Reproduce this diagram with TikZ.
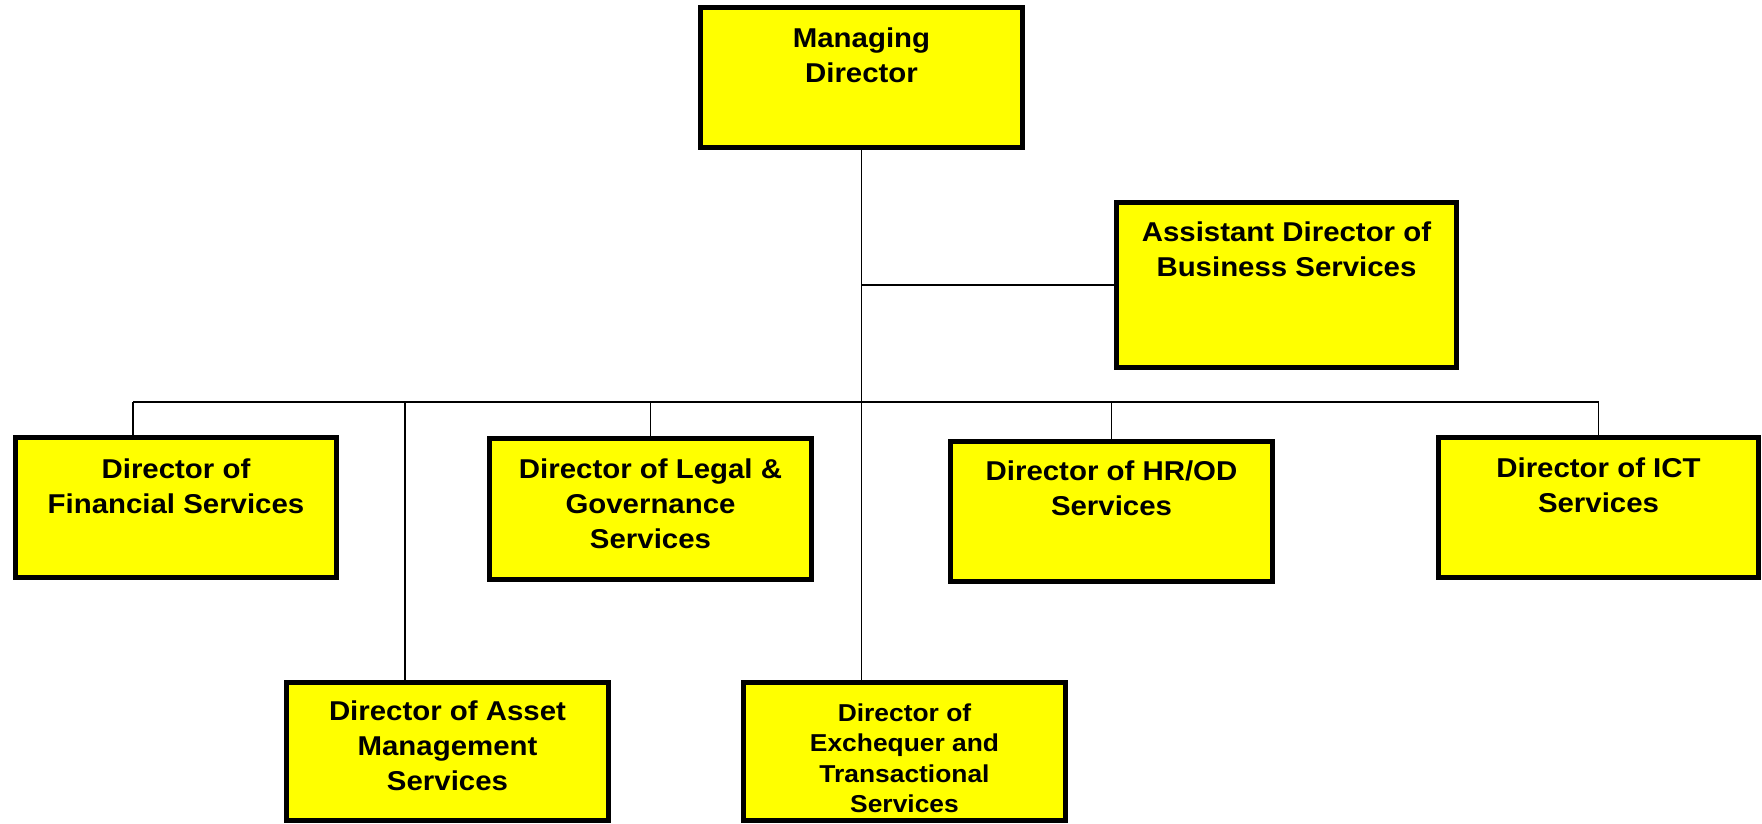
\documentclass[tikz,border=0pt]{standalone}
\usepackage{fontspec}
\setmainfont[FakeStretch=1.08]{Liberation Sans}
\usetikzlibrary{positioning}
\definecolor{postyellow}{RGB}{255,255,0}

\begin{document}
\begin{tikzpicture}[x=0.02cm,y=-0.02cm,
  post/.style={draw=black,line width=0.1cm,fill=postyellow,minimum width=6.44cm,minimum height=2.82cm,inner sep=0},
  title/.style={font=\bfseries\fontsize{15.5}{19.9}\selectfont,align=center,inner sep=0},
  smalltitle/.style={font=\bfseries\fontsize{13.9}{17.4}\selectfont,align=center,inner sep=0},
  link/.style={draw=black,line width=0.9pt}]
\useasboundingbox (0,0) rectangle (1762,824);

% joints on the bus
\coordinate (bus) at (861.5,402);
\coordinate (finjoin) at (133,402);
\coordinate (assetjoin) at (405,402);

% boxes
\node[post,minimum height=2.8cm] (md) at (861.5,77.5) {};
\node[post,minimum width=6.8cm,minimum height=3.3cm] (ad) at (1286.5,285) {};
\node[post] (fin) at (176,507.5) {};
\node[post] (leg) at (650.5,509) {};
\node[post] (hr) at (1111.5,511.5) {};
\node[post,minimum width=6.42cm] (ict) at (1598.5,507.5) {};
\node[post,minimum height=2.76cm] (asset) at (447.5,751.5) {};
\node[post,minimum height=2.76cm] (exch) at (904.5,751.5) {};

% lines
\draw[link] (md.south) -- (md.south |- exch.north);
\draw[link] (md.south |- ad.west) -- (ad.west);
\draw[link] (finjoin) -- (ict.north |- bus) -- (ict.north);
\draw[link] (finjoin) -- (finjoin |- fin.north);
\draw[link] (assetjoin) -- (assetjoin |- asset.north);
\draw[link] (leg.north |- bus) -- (leg.north);
\draw[link] (hr.north |- bus) -- (hr.north);

% texts
\node[title,below=0.44cm of md.north] (mdtext) {Managing\\Director};
\node[title,below=0.43cm of ad.north] (adtext) {Assistant Director of\\Business Services};
\node[title,below=0.48cm of fin.north] (fintext) {Director of\\Financial Services};
\node[title,below=0.44cm of leg.north] (legtext) {Director of Legal \&\\Governance\\Services};
\node[title,below=0.43cm of hr.north] (hrtext) {Director of HR/OD\\Services};
\node[title,below=0.46cm of ict.north] (icttext) {Director of ICT\\Services};
\node[title,below=0.40cm of asset.north] (assettext) {Director of Asset\\Management\\Services};
\node[smalltitle,below=0.46cm of exch.north] (exchtext) {Director of\\Exchequer and\\Transactional\\Services};

\end{tikzpicture}
\end{document}
